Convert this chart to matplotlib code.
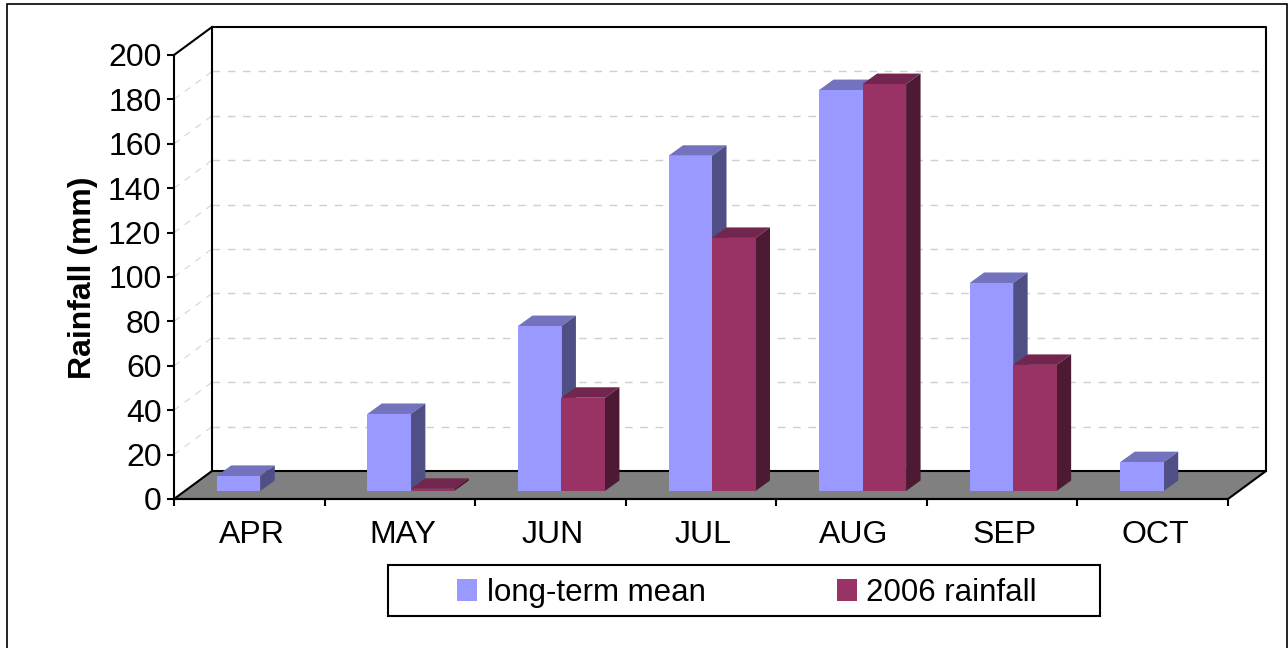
import matplotlib
matplotlib.use("Agg")
import matplotlib.pyplot as plt
from matplotlib.patches import Polygon, Rectangle
from matplotlib.transforms import ScaledTranslation

months = ["APR", "MAY", "JUN", "JUL", "AUG", "SEP", "OCT"]
long_term_mean = [6.8, 34.7, 74.3, 151, 180.6, 93.7, 13]
rainfall_2006 = [0, 1, 42, 114, 183.3, 56.8, 0]
y_ticks = list(range(0, 201, 20))

W, H = 1288, 648
plt.rcParams["font.family"] = ["Liberation Sans", "DejaVu Sans"]
fig = plt.figure(figsize=(W / 100, H / 100), dpi=100, facecolor="white")
L, R, T, B = 174, 1228, 55, 499
ax = fig.add_axes([L / W, 1 - B / H, (R - L) / W, (B - T) / H])
ax.set_xlim(0, 7)
ax.set_ylim(0, 200)
ax.patch.set_alpha(0)

px = (R - L) / 7          # pixels per category
py = (B - T) / 200        # pixels per mm
wall_dx, wall_dy = 38 / px, 28 / py
bar_dx, bar_dy = 14.5 / px, 10.5 / py
bar_w = 43.5 / px
bar_x0, bar_y0 = 11 / px, 8 / py

LW = 1.5
# outer frame
fig.add_artist(Rectangle((7 / W, -0.05), (1286.5 - 7) / W, 1.05 - 4.5 / H, transform=fig.transFigure,
                         fc="none", ec="black", lw=1.2))

# floor
ax.add_patch(Polygon([(0, 0), (wall_dx, wall_dy), (7 + wall_dx, wall_dy), (7, 0)], closed=True,
                     fc="#808080", ec="black", lw=LW, clip_on=False, zorder=1))
# back wall outline
ax.plot([wall_dx, wall_dx, 7 + wall_dx, 7 + wall_dx], [wall_dy, 200 + wall_dy, 200 + wall_dy, wall_dy],
        color="black", lw=LW, clip_on=False, zorder=1.5, solid_capstyle="projecting")
ax.plot([0, wall_dx], [200, 200 + wall_dy], color="black", lw=LW, clip_on=False, zorder=1.5)
# grid
for v in y_ticks[1:-1]:
    ax.plot([wall_dx, 7 + wall_dx], [v + wall_dy, v + wall_dy], color="#cfcfcf", lw=1.0,
            dashes=(5.5, 5.5), clip_on=False, zorder=1.2)
    ax.plot([0, wall_dx], [v, v + wall_dy], color="#d4d4d4", lw=0.8,
            dashes=(6, 6), clip_on=False, zorder=1.2)

def bar3d(x, v, front, side, top, z):
    x += bar_x0
    y0 = bar_y0
    ax.add_patch(Polygon([(x, y0 + v), (x + bar_dx, y0 + v + bar_dy), (x + bar_w + bar_dx, y0 + v + bar_dy),
                          (x + bar_w, y0 + v)], closed=True, fc=top, ec="none", clip_on=False, zorder=z))
    ax.add_patch(Polygon([(x + bar_w, y0), (x + bar_w + bar_dx, y0 + bar_dy), (x + bar_w + bar_dx, y0 + v + bar_dy),
                          (x + bar_w, y0 + v)], closed=True, fc=side, ec="none", clip_on=False, zorder=z))
    ax.add_patch(Rectangle((x, y0), bar_w, v, fc=front, ec="none", clip_on=False, zorder=z + 0.1))

for i, (a, b) in enumerate(zip(long_term_mean, rainfall_2006)):
    c = i + 0.5
    if a > 0:
        bar3d(c - bar_w, a, "#9999FF", "#4F4F85", "#7373BD", 2 + i * 0.01)
    if b > 0:
        bar3d(c, b, "#993366", "#4D1A33", "#73264D", 2.5 + i * 0.01)

# axes
for s in ("top", "right"):
    ax.spines[s].set_visible(False)
for s in ("left", "bottom"):
    ax.spines[s].set_linewidth(LW)
    ax.spines[s].set_zorder(5)
ax.set_yticks(y_ticks)
ax.set_xticks(range(8))
ax.set_xticklabels([])
ax.set_xticks([i + 0.5 for i in range(7)], minor=True)
ax.set_xticklabels(months, minor=True)
ax.tick_params(axis="y", length=5, width=LW, labelsize=23, pad=4)
ax.tick_params(axis="x", which="major", length=5, width=LW)
ax.tick_params(axis="x", which="minor", length=0, labelsize=23, pad=15)
shift = ScaledTranslation(2.5 / 100, 0, fig.dpi_scale_trans)
for lab in ax.get_xticklabels(minor=True):
    lab.set_transform(lab.get_transform() + shift)
fig.text(83 / W, 1 - 278 / H, "Rainfall (mm)", rotation=90, ha="center", va="center",
         fontsize=23, fontweight="bold")

# legend box and legend
fig.add_artist(Rectangle((387.5 / W, 1 - 616 / H), (1100 - 387.5) / W, (616 - 564.5) / H,
                         transform=fig.transFigure, fc="white", ec="black", lw=LW))
h1 = Rectangle((0, 0), 1, 1, fc="#9999FF", ec="none")
h2 = Rectangle((0, 0), 1, 1, fc="#993366", ec="none")
leg = fig.legend([h1, h2], ["long-term mean", "2006 rainfall"], ncols=2, fontsize=22.5,
                 loc="center", bbox_to_anchor=(747 / W, 1 - 593 / H), bbox_transform=fig.transFigure,
                 frameon=False, handlelength=0.64, handleheight=0.68, handletextpad=0.3, columnspacing=4.2,
                 borderpad=0.3, borderaxespad=0)

fig.savefig("out.png", dpi=100)
